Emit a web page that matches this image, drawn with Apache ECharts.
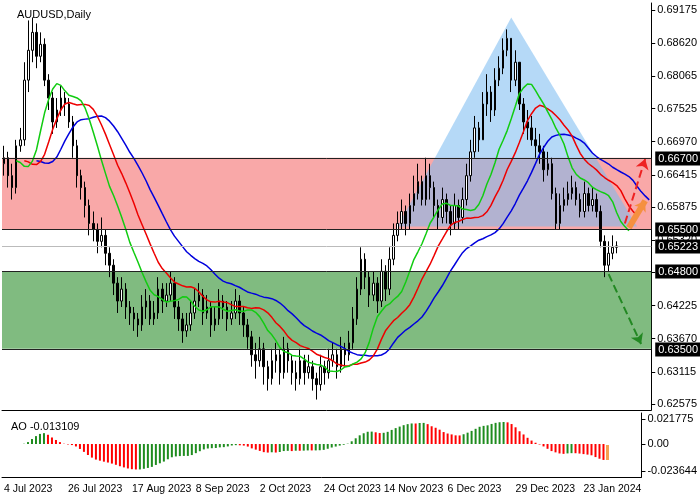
<!DOCTYPE html><html><head><meta charset="utf-8">
<script src="https://cdn.jsdelivr.net/npm/echarts@6/dist/echarts.min.js"></script>
<style>body{margin:0}#c{width:700px;height:500px}</style></head><body><div id="c"></div><script>
const firstOpen = 6660;
const closes=[6670,6640,6620,6690,6700,6800,6850,6880,6840,6860,6800,6770,6730,6750,6770,6760,6730,6690,6640,6620,6590,6560,6550,6530,6540,6510,6490,6460,6430,6450,6420,6410,6400,6390,6420,6430,6400,6410,6450,6430,6440,6460,6420,6400,6380,6390,6410,6430,6440,6410,6420,6390,6400,6430,6420,6400,6410,6430,6410,6390,6370,6340,6330,6350,6320,6300,6330,6340,6310,6350,6330,6310,6300,6330,6310,6320,6300,6290,6320,6310,6330,6340,6320,6350,6340,6360,6400,6450,6500,6470,6440,6460,6430,6480,6450,6500,6540,6560,6580,6560,6590,6610,6630,6600,6640,6620,6590,6570,6600,6580,6560,6590,6570,6600,6640,6680,6720,6700,6760,6780,6750,6800,6820,6850,6870,6800,6830,6760,6730,6720,6700,6690,6680,6650,6660,6610,6560,6590,6600,6610,6620,6600,6580,6610,6590,6600,6580,6530,6490,6510,6520,6522.3];
const highs=[6690,6680,6660,6700,6720,6830,6900,6905,6895,6880,6870,6810,6780,6770,6790,6780,6770,6740,6700,6650,6630,6600,6580,6560,6570,6550,6520,6500,6470,6470,6460,6430,6420,6410,6440,6450,6440,6430,6470,6460,6460,6480,6470,6430,6410,6410,6430,6450,6460,6450,6440,6430,6420,6450,6440,6430,6430,6450,6440,6420,6400,6380,6360,6370,6360,6330,6350,6360,6350,6370,6360,6340,6330,6350,6340,6340,6330,6310,6340,6330,6350,6360,6350,6370,6360,6380,6420,6470,6520,6510,6480,6480,6470,6500,6490,6520,6560,6580,6600,6590,6610,6640,6660,6640,6670,6660,6630,6600,6620,6610,6590,6610,6600,6620,6660,6700,6740,6730,6780,6810,6790,6820,6840,6870,6885,6870,6850,6830,6770,6750,6740,6720,6710,6690,6680,6670,6620,6610,6620,6630,6640,6630,6610,6630,6620,6620,6610,6590,6540,6530,6540,6530];
const lows=[6640,6620,6600,6610,6680,6690,6780,6830,6820,6830,6790,6750,6710,6720,6740,6740,6720,6670,6620,6600,6570,6540,6530,6510,6520,6490,6470,6440,6410,6420,6400,6390,6380,6370,6380,6400,6390,6390,6400,6410,6420,6430,6400,6380,6360,6370,6380,6400,6420,6390,6400,6370,6380,6390,6400,6380,6390,6400,6390,6370,6350,6320,6300,6320,6290,6280,6290,6310,6290,6300,6310,6290,6280,6290,6290,6300,6280,6265,6280,6290,6300,6320,6300,6310,6320,6330,6350,6390,6440,6450,6420,6430,6410,6420,6430,6440,6490,6530,6550,6540,6550,6580,6600,6590,6590,6600,6570,6550,6560,6560,6540,6550,6550,6560,6590,6630,6670,6680,6700,6740,6730,6740,6790,6810,6840,6780,6790,6750,6710,6700,6690,6670,6660,6630,6640,6600,6550,6550,6580,6590,6600,6590,6570,6570,6580,6580,6570,6520,6470,6480,6500,6510];
const xTickLabels=['4 Jul 2023','26 Jul 2023','17 Aug 2023','8 Sep 2023','2 Oct 2023','24 Oct 2023','14 Nov 2023','6 Dec 2023','29 Dec 2023','23 Jan 2024'];
const yTicks=[0.69175,0.68620,0.68065,0.67525,0.66970,0.66415,0.65875,0.65320,0.64780,0.64225,0.63670,0.63115,0.62575];
const levels=[0.66700,0.65500,0.64800,0.63500];
const lastPrice=0.65223;
const aoLabel='AO -0.013109';
const aoTicks=[0.021775,0.00,-0.023644];
const FUTURE=8;

const P=v=>v/10000;
const N=closes.length;
const M=['Jan','Feb','Mar','Apr','May','Jun','Jul','Aug','Sep','Oct','Nov','Dec'];
const cats=[];let d=new Date(Date.UTC(2023,6,4));
while(cats.length<N+FUTURE){const w=d.getUTCDay();if(w>0&&w<6)cats.push(d.getUTCDate()+' '+M[d.getUTCMonth()]+' '+d.getUTCFullYear());d=new Date(d.getTime()+864e5);}
const ohlc=closes.map((c,i)=>[P(i?closes[i-1]:firstOpen),P(c),P(lows[i]),P(highs[i])]);
const med=closes.map((c,i)=>(highs[i]+lows[i])/2/10000);
function smma(n,shift){const out=new Array(N+FUTURE).fill(null);let s=med[0];for(let i=0;i<N;i++){s=i?(s*(n-1)+med[i])/n:med[0];if(i+shift<N+FUTURE)out[i+shift]=+s.toFixed(5);}return out;}
function sma(n,i){let a=0,k=0;for(let j=Math.max(0,i-n+1);j<=i;j++){a+=med[j];k++;}return a/k;}
const ao=med.map((_,i)=>sma(5,i)-sma(34,i));
const aoData=ao.map((v,i)=>({value:+v.toFixed(6),itemStyle:{color:(i&&v<ao[i-1])?'#ff0000':'#1e8c1e',borderColor:i==N-1?'#f5a050':null,borderWidth:i==N-1?3:0}}));
const showIdx=new Set(xTickLabels.map(l=>cats.indexOf(l)));
const F='Liberation Sans';
const lineData=levels.map(v=>[0,v,'#222']).concat([[0,lastPrice,'#bbbbbb']]);
const ch=echarts.init(document.getElementById('c'));
ch.setOption({animation:false,backgroundColor:'#fff',
title:[{text:'AUDUSD,Daily',left:12,top:4,textStyle:{fontSize:11,fontWeight:'normal',color:'#000',fontFamily:F}},{text:aoLabel,left:6,top:416,textStyle:{fontSize:11,fontWeight:'normal',color:'#000',fontFamily:F}}],
grid:[{left:2,right:47,top:3,height:407},{left:2,right:47,top:413,height:64}],
xAxis:[{type:'category',data:cats,gridIndex:0,boundaryGap:true,axisLine:{lineStyle:{color:'#000'}},axisTick:{show:false},axisLabel:{show:false}},
{type:'category',data:cats,gridIndex:1,boundaryGap:true,axisLine:{onZero:false,lineStyle:{color:'#000'}},axisTick:{interval:(i)=>showIdx.has(i),length:4,lineStyle:{color:'#000'}},axisLabel:{interval:(i)=>showIdx.has(i),align:'left',margin:7,fontSize:10.5,color:'#000',fontFamily:F}}],
yAxis:[{type:'value',gridIndex:0,position:'right',min:0.62475,max:0.69292,splitLine:{show:false},axisLine:{show:true,lineStyle:{color:'#000'}},axisTick:{show:true,customValues:yTicks,length:4},axisLabel:{customValues:yTicks,formatter:v=>v.toFixed(5),fontSize:11,color:'#000',fontFamily:F,margin:6}},
{type:'value',gridIndex:1,position:'right',min:-0.0287,max:0.0270,splitLine:{show:false},axisLine:{show:true,lineStyle:{color:'#000'}},axisTick:{show:true,customValues:aoTicks,length:4},axisLabel:{customValues:aoTicks,formatter:v=>v===0?'0.00':String(v),fontSize:11,color:'#000',fontFamily:F,margin:6}}],
series:[
{type:'custom',xAxisIndex:0,yAxisIndex:0,z:1,data:[[0]],renderItem:(p,api)=>{const a=api.coord([97,0.6555]),b=api.coord([125,0.6905]),c=api.coord([156,0.6555]);return{type:'polygon',shape:{points:[a,b,c]},style:{fill:'rgba(120,185,240,0.55)'}};}},
{type:'candlestick',data:ohlc,barWidth:2,z:3,itemStyle:{color:'#fff',color0:'#000',borderColor:'#000',borderColor0:'#000',borderWidth:1},
 markArea:{silent:true,z:1,data:[[{yAxis:levels[1],itemStyle:{color:'rgba(245,110,110,0.6)'}},{yAxis:levels[0]}],[{yAxis:levels[3],itemStyle:{color:'rgba(60,150,60,0.65)'}},{yAxis:levels[2]}]]}},
{type:'custom',xAxisIndex:0,yAxisIndex:0,z:6,clip:false,data:lineData,encode:{x:0,y:1},renderItem:(p,api)=>{const y=Math.round(api.coord([0,api.value(1)])[1])+0.5;const cs=p.coordSys;const col=lineData[p.dataIndex][2];return{type:'group',children:[
 {type:'line',shape:{x1:cs.x,y1:y,x2:cs.x+cs.width,y2:y},style:{stroke:col,lineWidth:1}},
 {type:'text',x:cs.x+cs.width+4,y:y,style:{text:api.value(1).toFixed(5),fill:'#fff',backgroundColor:'#000',padding:[2,3,1,3],fontSize:11,fontFamily:F,verticalAlign:'middle'}}]};}},
{type:'line',data:smma(13,8),symbol:'none',z:4,lineStyle:{color:'#0000dd',width:1.5}},
{type:'line',data:smma(8,5),symbol:'none',z:4,lineStyle:{color:'#ee0000',width:1.5}},
{type:'line',data:smma(5,3),symbol:'none',z:4,lineStyle:{color:'#11cc11',width:1.5},
 markLine:{silent:true,symbol:['none','arrow'],symbolSize:10,label:{show:false},data:[
 [{coord:[153,0.6560],lineStyle:{color:'#ee2222',width:2,type:'dashed'}},{coord:[158,0.6668]}],
 [{coord:[149,0.6475],lineStyle:{color:'#228822',width:2,type:'dashed'}},{coord:[157,0.6358]}],
 [{coord:[153.5,0.6553],lineStyle:{color:'#f59040',width:6,type:'solid'}},{coord:[157.5,0.6598]}]]}},
{type:'bar',xAxisIndex:1,yAxisIndex:1,data:aoData,barWidth:2}
]});
</script></body></html>
